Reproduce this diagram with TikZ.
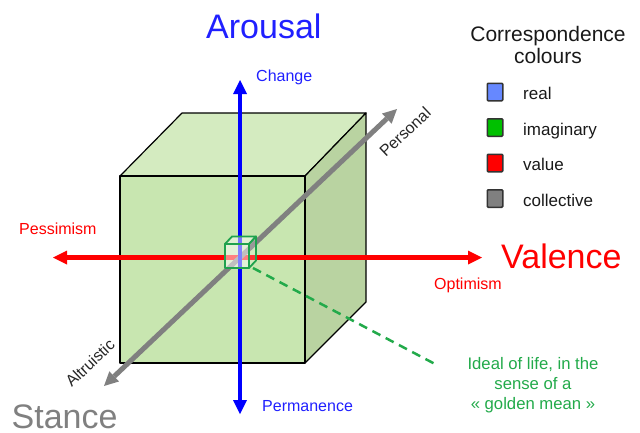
\documentclass[tikz,border=0pt]{standalone}
\usepackage{fontspec}
\setmainfont{Liberation Sans}
\usetikzlibrary{arrows.meta}
\definecolor{frontgreen}{HTML}{C8E6B0}
\definecolor{topgreen}{HTML}{D4EBC0}
\definecolor{sidegreen}{HTML}{B9D3A1}
\definecolor{axisblue}{HTML}{0000FF}
\definecolor{textblue}{HTML}{2020FF}
\definecolor{axisred}{HTML}{FF0000}
\definecolor{axisgray}{HTML}{808080}
\definecolor{idealgreen}{HTML}{22AA4A}
\definecolor{edgegreen}{HTML}{1FA24E}
\definecolor{realblue}{HTML}{6688FF}
\definecolor{imaggreen}{HTML}{00C000}
\tikzset{
  axisline/.style={line width=5pt,
    {Triangle[length=14pt,width=14pt,line width=0pt]}-{Triangle[length=14pt,width=14pt,line width=0pt]}},
  bigtext/.style={font=\fontsize{34}{40}\selectfont,inner sep=0pt,anchor=base west},
  smalltext/.style={font=\fontsize{16}{19}\selectfont,inner sep=0pt,anchor=base west},
  keytext/.style={font=\fontsize{17}{20}\selectfont,inner sep=0pt,anchor=base west,text=black!90},
  keybox/.style={draw=black!80,line width=1.5pt,rounded corners=1pt,
    minimum width=15.5pt,minimum height=17.5pt,inner sep=0pt},
  cubeface/.style={draw=black,line width=1.2pt,line join=round},
  tinyface/.style={draw=edgegreen,line width=1.8pt,line join=round,fill=white},
}
\begin{document}
\begin{tikzpicture}[x=1pt,y=-1pt]
  \useasboundingbox (0,0) rectangle (640,432);
  % big cube
  \coordinate (f1) at (120,176);
  \coordinate (f2) at (305,176);
  \coordinate (f3) at (305,363);
  \coordinate (f4) at (120,363);
  \coordinate (b1) at (182,113);
  \coordinate (b2) at (366,113);
  \coordinate (b3) at (366,302);
  \filldraw[cubeface,fill=topgreen] (f1) -- (b1) -- (b2) -- (f2) -- cycle;
  \filldraw[cubeface,fill=sidegreen] (f2) -- (b2) -- (b3) -- (f3) -- cycle;
  \filldraw[cubeface,fill=frontgreen] (f1) rectangle (f3);
  % axis ends
  \coordinate (aroT) at (240,80);
  \coordinate (aroB) at (240,414);
  \coordinate (valL) at (53,257.5);
  \coordinate (valR) at (482,257.5);
  \coordinate (staL) at (104,386);
  \coordinate (staR) at (397,109);
  \begin{scope}[axisline]
    \draw[axisred] (valL) to (valR);
    \draw[axisgray] (staL) to (staR);
    \draw[axisblue,line width=4pt] (aroB) to (aroT);
  \end{scope}
  % small cube
  \coordinate (s1) at (225,244);
  \coordinate (s2) at (249,244);
  \coordinate (s3) at (249,268);
  \coordinate (s4) at (225,268);
  \coordinate (t1) at (232,236.5);
  \coordinate (t2) at (256,236.5);
  \coordinate (t3) at (256,260.5);
  \filldraw[tinyface,fill opacity=.45] (s1) -- (t1) -- (t2) -- (s2) -- cycle;
  \filldraw[tinyface,fill opacity=.2] (s2) -- (t2) -- (t3) -- (s3) -- cycle;
  \filldraw[tinyface,fill opacity=.5] (s1) rectangle (s3);
  % labels
  \draw
    (206,38) node[bigtext,text=textblue] (arousal){Arousal}
    (501,268) node[bigtext,text=axisred] (valence){Valence}
    (11.5,428) node[bigtext,text=axisgray] (stance){Stance}
    (256,81) node[smalltext,text=textblue] (change){Change}
    (262,411) node[smalltext,text=textblue] (permanence){Permanence}
    (19,234.3) node[smalltext,text=axisred] (pessimism){Pessimism}
    (434,289) node[smalltext,text=axisred] (optimism){Optimism}
    (405,132) node[smalltext,anchor=center,rotate=43.4,text=black!85] (personal){Personal}
    (90,363) node[smalltext,anchor=center,rotate=43.4,text=black!85] (altruistic){Altruistic};
  % legend
  \draw
    (548,26) node[anchor=north,align=center,inner sep=0pt,
      font=\fontsize{21}{21.6}\selectfont,text=black!90] (legend){Correspondence\\colours}
    (495,92) node[keybox,fill=realblue] (realkey){}
    (495,127.5) node[keybox,fill=imaggreen] (imagkey){}
    (495,163) node[keybox,fill=axisred] (valuekey){}
    (495,198.5) node[keybox,fill=axisgray] (collkey){}
    (523,99.5) node[keytext] (real){real}
    (523,135) node[keytext] (imaginary){imaginary}
    (523,170.5) node[keytext] (value){value}
    (523,206) node[keytext] (collective){collective};
  % golden mean
  \coordinate (ideal) at (253,268);
  \coordinate (idealend) at (435,364);
  \node[anchor=north,align=center,inner sep=0pt,text=idealgreen,
    font=\fontsize{16.7}{20.2}\selectfont] (goldenmean) at (533,357)
    {Ideal of life, in the\\sense of a\\« golden mean »};
  \draw[idealgreen,line width=2.5pt,dash pattern=on 9pt off 6pt] (ideal) to (idealend);
\end{tikzpicture}
\end{document}
